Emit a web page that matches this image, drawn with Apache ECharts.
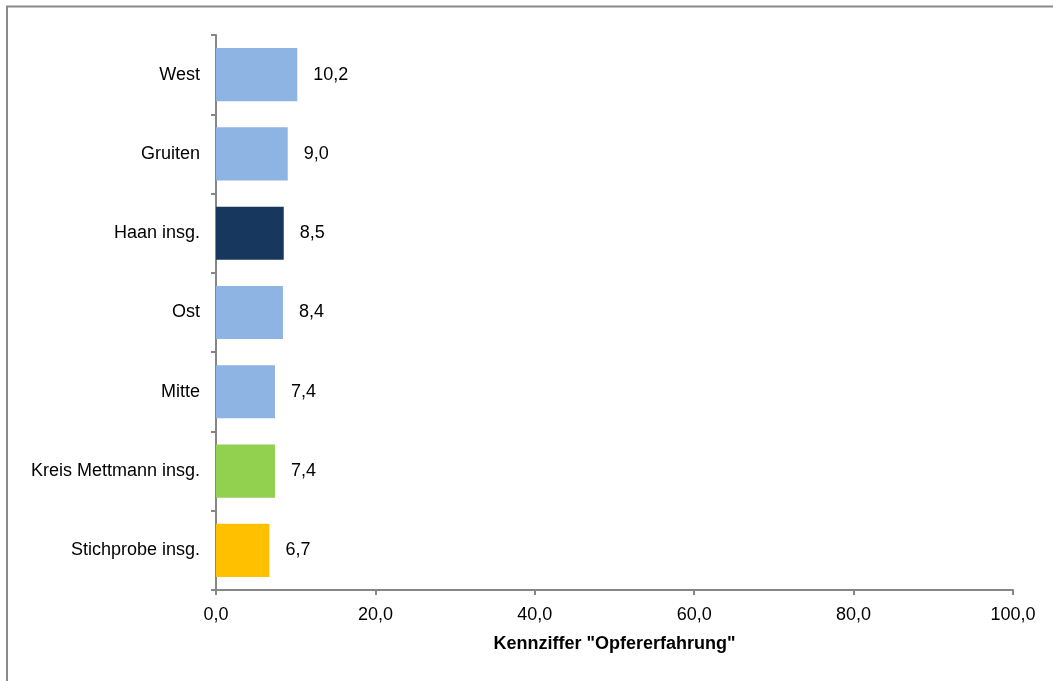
<!DOCTYPE html>
<html>
<head>
<meta charset="utf-8">
<script src="https://cdn.jsdelivr.net/npm/echarts@6/dist/echarts.min.js"></script>
<style>
  html, body { margin: 0; padding: 0; background: #fff; }
  #chart { width: 1053px; height: 681px; }
</style>
</head>
<body>
<div id="chart"></div>
<script>
// Districts, listed top to bottom
const categories = ['West', 'Gruiten', 'Haan insg.', 'Ost', 'Mitte', 'Kreis Mettmann insg.', 'Stichprobe insg.'];
const values = [10.2, 9.0, 8.5, 8.4, 7.4, 7.4, 6.7];
const barColors = ['#8EB4E3', '#8EB4E3', '#17375E', '#8EB4E3', '#8EB4E3', '#92D050', '#FFC000'];
const axisTitle = 'Kennziffer "Opfererfahrung"';

const fmt = v => v.toFixed(1).replace('.', ',');
const font = '"Liberation Sans", Arial, sans-serif';
const axisGray = '#868686';
const fs = 18;

const chart = echarts.init(document.getElementById('chart'), null, { renderer: 'canvas' });
chart.setOption({
  animation: false,
  backgroundColor: '#fff',
  textStyle: { fontFamily: font },
  graphic: [{
    type: 'rect',
    shape: { x: 7, y: 6.5, width: 1200, height: 800 },
    style: { fill: 'none', stroke: '#8a8a8a', lineWidth: 2 },
    silent: true
  }],
  grid: { left: 216, right: 40, top: 35, bottom: 91, containLabel: false },
  xAxis: {
    type: 'value',
    min: 0, max: 100, interval: 20,
    name: axisTitle,
    nameLocation: 'middle',
    nameGap: 45,
    nameTextStyle: { fontFamily: font, fontSize: fs, fontWeight: 'bold', color: '#000' },
    axisLine: { show: true, lineStyle: { color: axisGray, width: 2 } },
    axisTick: { show: true, length: 5, inside: false, lineStyle: { color: axisGray, width: 2 } },
    axisLabel: { formatter: fmt, fontSize: fs, color: '#000', margin: 16, fontFamily: font },
    splitLine: { show: false }
  },
  yAxis: {
    type: 'category',
    inverse: true,
    data: categories,
    axisLine: { show: true, lineStyle: { color: axisGray, width: 2 } },
    axisTick: { show: true, length: 5, alignWithLabel: false, lineStyle: { color: axisGray, width: 2 } },
    axisLabel: { fontSize: fs, color: '#000', margin: 16, fontFamily: font },
    splitLine: { show: false }
  },
  series: [{
    type: 'bar',
    data: values.map((v, i) => ({ value: v, itemStyle: { color: barColors[i] } })),
    barWidth: '67%',
    label: {
      show: true,
      position: 'right',
      distance: 16,
      formatter: p => fmt(p.value),
      fontSize: fs,
      color: '#000',
      fontFamily: font
    }
  }]
});
</script>
</body>
</html>
